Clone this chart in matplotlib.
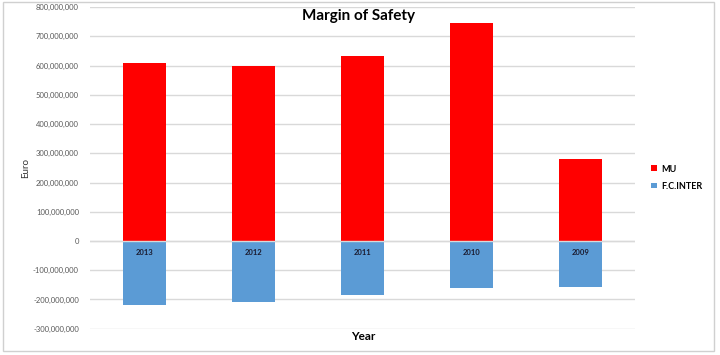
import matplotlib.pyplot as plt
from matplotlib.patches import Rectangle
from matplotlib.ticker import FuncFormatter

plt.rcParams['font.family'] = ['Lato', 'DejaVu Sans']

# data
years = ['2013', '2012', '2011', '2010', '2009']
mu = [610e6, 598e6, 632e6, 745e6, 282e6]
inter = [-219e6, -210e6, -183e6, -160e6, -156e6]

fig = plt.figure(figsize=(7.2, 3.55), dpi=100)
ax = fig.add_axes([0.125, 0.074, 0.757, 0.906])

x = range(len(years))
ax.bar(x, mu, width=0.4, color='#FF0000', label='MU', zorder=2)
ax.bar(x, inter, width=0.4, color='#5B9BD5', label='F.C.INTER', zorder=2)
ax.axhline(0, color='#d9d9d9', lw=1, zorder=3)

for i, y in enumerate(years):
    ax.text(i, -40e6, y, ha='center', va='center', fontsize=5.5,
            fontweight='bold', color='#1a1a2e', zorder=4)

ax.set_xlim(-0.5, len(years) - 0.5)
ax.set_ylim(-300e6, 800e6)
ax.set_yticks([i * 100e6 for i in range(-3, 9)])
ax.yaxis.set_major_formatter(FuncFormatter(lambda v, p: f'{v:,.0f}'))
ax.set_xticks([])
ax.tick_params(axis='y', length=0, labelsize=5.5, labelcolor='#595959', pad=8)
ax.grid(axis='y', color='#d9d9d9', lw=1, zorder=0)
for s in ax.spines.values():
    s.set_visible(False)

ax.set_ylabel('Euro', fontsize=7, color='#333333', labelpad=2)
fig.text(363 / 720, 1 - 337 / 355, 'Year', ha='center', va='center',
         fontsize=8.5, fontweight='bold')
fig.text(358 / 720, 1 - 16 / 355, 'Margin of Safety', ha='center', va='center',
         fontsize=11, fontweight='bold')

leg = ax.legend(loc='center left', bbox_to_anchor=(1.015, 0.47), frameon=False,
                fontsize=6.5, handlelength=0.6, handleheight=0.6,
                handletextpad=0.5, labelspacing=0.9)
for t in leg.get_texts():
    t.set_fontweight('bold')

fig.patches.append(Rectangle((0.004, 0.012), 0.988, 0.983, transform=fig.transFigure,
                             fill=False, edgecolor='#d0d0d0', lw=1))

fig.savefig('out.png', dpi=100)
plt.close()
